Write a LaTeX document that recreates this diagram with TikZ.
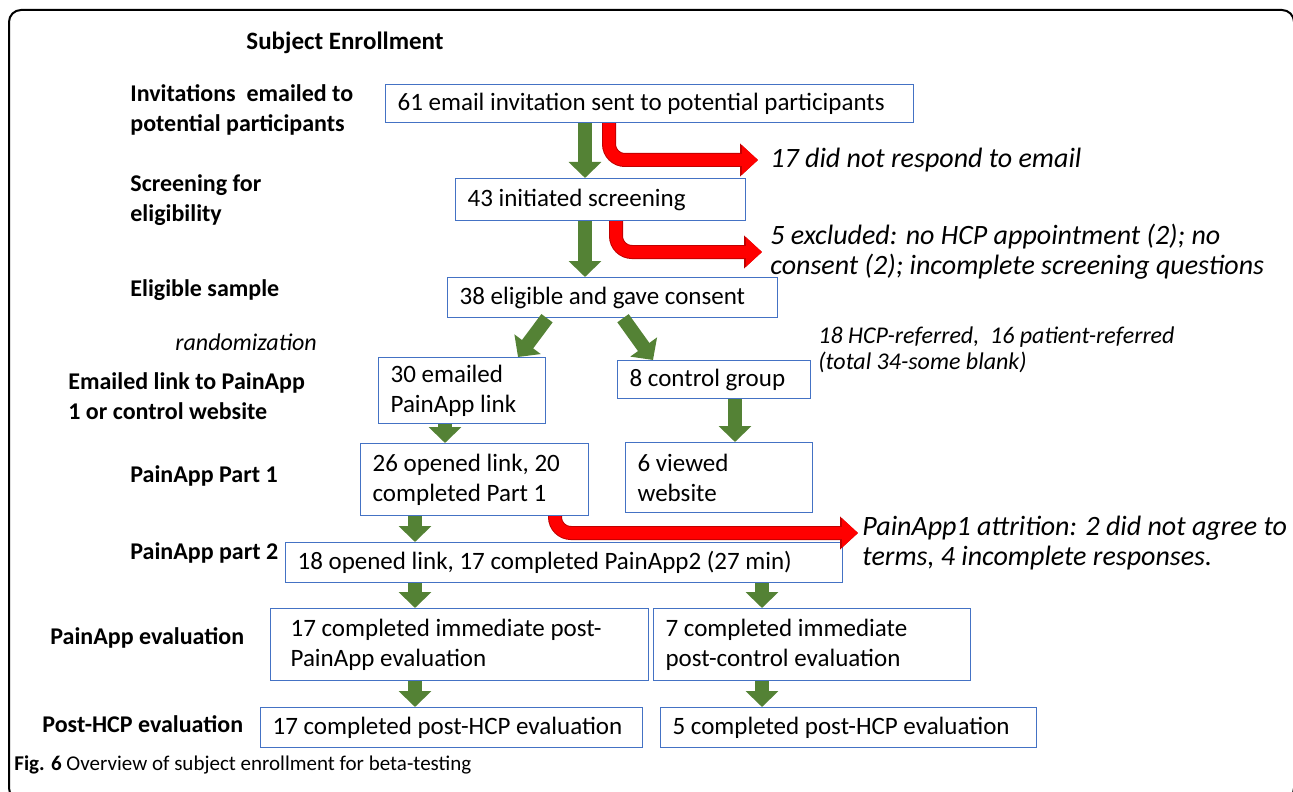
\documentclass[tikz,border=0pt]{standalone}
\usepackage{fontspec}
\setmainfont{Carlito}
\usepackage{tikz}
\usetikzlibrary{
    arrows.meta, % For the block arrow heads
    calc         % For shifting the ends of the arrows
}
\definecolor{boxblue}{HTML}{4472C4}
\definecolor{arrowgreen}{HTML}{548235}
\definecolor{arrowred}{HTML}{FF0000}
\definecolor{arrowrim}{HTML}{C00000}

\begin{document}
\begin{tikzpicture}[
    % one unit is one pixel of the figure, y grows downwards
    x=0.5pt, y=-0.5pt,
    % Style for the blue boxes
    box_style/.style={
        draw=boxblue,
        line width=0.6pt,
        anchor=north west,
        inner xsep=6pt,
        inner ysep=2pt,
        align=flush left,
        font=\fontsize{12.5}{15}\selectfont
    },
    % Style for the stage names on the left
    stage_label/.style={
        anchor=west,
        align=left,
        inner sep=0pt,
        font=\bfseries\fontsize{12}{15}\selectfont
    },
    % Style for the italic notes on the right
    note_style/.style={
        anchor=west,
        align=left,
        inner sep=0pt,
        font=\itshape\fontsize{14}{15}\selectfont
    },
    % Style for the green block arrows
    green_arrow/.style={
        draw=arrowgreen,
        line width=7pt,
        -{Triangle[length=8pt, width=16pt]}
    },
    % Style for the bent red arrows (dark rim drawn first)
    red_arrow/.style={
        draw=arrowred,
        line width=6pt,
        rounded corners=8pt,
        -{Triangle[length=8pt, width=14pt]},
        preaction={draw=arrowrim, line width=7pt, -{Triangle[length=9pt, width=16pt]}}
    }
]
    \useasboundingbox (0,0) rectangle (1293,791);

    % 0. Frame round the figure (cut at the right and bottom).
    \begin{scope}
        \clip (0,0) rectangle (1293,791);
        \draw[line width=1pt, rounded corners=6pt] (9,10) rectangle (1294,800);
    \end{scope}

    % 1. Title and stage names.
    \node[font=\bfseries\fontsize{12.5}{15}\selectfont] (title) at (345,43) {Subject Enrollment};
    \node[stage_label] (lab_invite) at (130,110) {Invitations~ emailed to\\potential participants};
    \node[stage_label] (lab_screen) at (130,200) {Screening for\\eligibility};
    \node[stage_label] (lab_eligible) at (130,290) {Eligible sample};
    \node[stage_label, font=\itshape\fontsize{12}{15}\selectfont] (lab_random) at (175,342) {randomization};
    \node[stage_label] (lab_link) at (68,396) {Emailed link to PainApp\\1 or control website};
    \node[stage_label] (lab_part1) at (130,476) {PainApp Part 1};
    \node[stage_label] (lab_part2) at (130,553) {PainApp part 2};
    \node[stage_label] (lab_eval) at (50,638) {PainApp evaluation};
    \node[stage_label] (lab_hcp) at (42,724) {Post-HCP evaluation};

    % 2. The boxes of the flow.
    \node[box_style, text width=252pt, minimum height=19pt] (invite) at (385,84) {61 email invitation sent to potential participants};
    \node[box_style, text width=133pt, minimum height=21pt] (screen) at (455,178) {43 initiated screening};
    \node[box_style, text width=153pt, minimum height=20pt] (eligible) at (447,277) {38 eligible and gave consent};
    \node[box_style, text width=71.5pt, minimum height=33pt] (emailed) at (378,357) {30 emailed\\PainApp link};
    \node[box_style, text width=84.5pt, minimum height=19pt] (control) at (617,360) {8 control group};
    \node[box_style, text width=102pt, minimum height=36pt] (opened) at (360,443) {26 opened link, 20\\completed Part 1};
    \node[box_style, text width=81.5pt, minimum height=35pt] (viewed) at (625,442) {6 viewed\\website};
    \node[box_style, text width=266.5pt, minimum height=20pt] (part2) at (285,542) {18 opened link, 17 completed PainApp2 (27 min)};
    \node[box_style, inner xsep=10pt, text width=169pt, minimum height=36pt] (eval_app) at (270,608) {17 completed immediate post-\\PainApp evaluation};
    \node[box_style, text width=146.5pt, minimum height=36pt] (eval_ctl) at (653,608) {7 completed immediate\\post-control evaluation};
    \node[box_style, text width=179pt, minimum height=20pt] (hcp_app) at (260,707) {17 completed post-HCP evaluation};
    \node[box_style, text width=176pt, minimum height=20pt] (hcp_ctl) at (660,707) {5 completed post-HCP evaluation};

    % 3. Notes on the right.
    \node[note_style] (note_email) at (770,160) {17 did not respond to email};
    \node[note_style] (note_excl) at (770,252) {5 excluded: no HCP appointment (2); no\\consent (2); incomplete screening questions};
    \node[note_style, font=\itshape\fontsize{12}{13}\selectfont] (note_ref) at (818,350) {18 HCP-referred,~ 16 patient-referred\\(total 34-some blank)};
    \node[note_style] (note_attr) at (862,543) {PainApp1 attrition: 2 did not agree to\\terms, 4 incomplete responses.};

    % 4. Green arrows down the flow.
    \draw[green_arrow] (invite.south -| 585,0) -- (screen.north -| 585,0);
    \draw[green_arrow] (screen.south -| 585,0) -- (eligible.north -| 585,0);
    \draw[green_arrow] (eligible.south -| 547,0) -- (emailed.north -| 518,0);
    \draw[green_arrow] (eligible.south -| 623,0) -- (control.north -| 653,0);
    \draw[green_arrow] (emailed.south -| 445,0) -- (opened.north -| 445,0);
    \draw[green_arrow] (control.south -| 735,0) -- (viewed.north -| 735,0);
    \draw[green_arrow] (opened.south -| 415,0) -- (part2.north -| 415,0);
    \draw[green_arrow] (part2.south -| 415,0) -- (eval_app.north -| 415,0);
    \draw[green_arrow] (part2.south -| 762,0) -- (eval_ctl.north -| 762,0);
    \draw[green_arrow] (eval_app.south -| 415,0) -- (hcp_app.north -| 415,0);
    \draw[green_arrow] (eval_ctl.south -| 762,0) -- (hcp_ctl.north -| 762,0);

    % 5. Red arrows out to the notes.
    \draw[red_arrow] (invite.south -| 609,0) |- ($(note_email.west)+(-12,0)$);
    \draw[red_arrow] (screen.south -| 616,0) |- ($(note_excl.west)+(-8,0)$);
    \draw[red_arrow] (opened.south -| 555,0) |- ($(note_attr.west)+(-4,-10)$);

    % 6. Caption.
    \node[anchor=west, inner sep=0pt, font=\fontsize{10.5}{13}\selectfont] (caption) at (14,765) {\textbf{Fig. 6} Overview of subject enrollment for beta-testing};

\end{tikzpicture}
\end{document}
